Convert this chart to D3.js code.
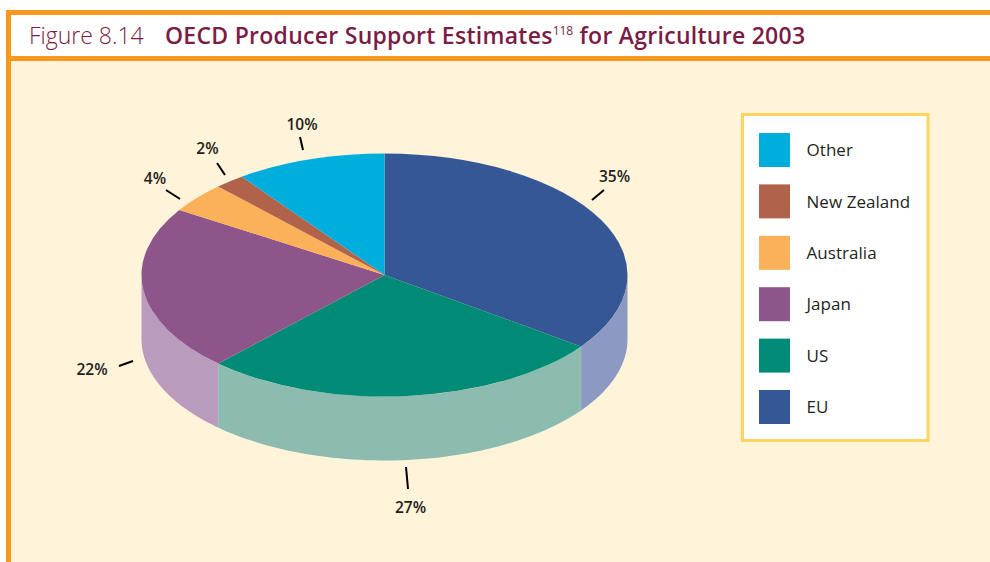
<!DOCTYPE html>
<html>
<head>
<meta charset="utf-8">
<title>OECD Producer Support Estimates for Agriculture 2003</title>
<style>
    html, body { margin: 0; background: #fff; }
    svg { display: block; font-family: "Open Sans", sans-serif; }
</style>
<script src="https://d3js.org/d3.v7.min.js"></script>
</head>
<body>
<svg id="chart" width="990" height="562"></svg>
<script>
// values read clockwise from 12 o'clock
const categories = ["EU", "US", "Japan", "Australia", "New Zealand", "Other"];
const shares = [35, 27, 22, 4, 2, 10];
const topColors = ["#355795", "#008b76", "#8e558b", "#fbb05a", "#b1624a", "#00aedd"];
const sideColors = ["#8c9ac3", "#8cbbb0", "#b99bbe", "#fbb05a", "#b1624a", "#00aedd"];
const legendOrder = ["Other", "New Zealand", "Australia", "Japan", "US", "EU"];

const width = 990, height = 562;
const cx = 384.5, cy = 275, rx = 243, ry = 121.5, depth = 64;

const svg = d3.select("#chart");

// page background and frame
svg.append("rect").attr("x", 6).attr("y", 10).attr("width", width - 6).attr("height", height - 10).attr("fill", "#fff3d9");
svg.append("rect").attr("x", 11).attr("y", 15).attr("width", width - 11).attr("height", 41).attr("fill", "#fff");
svg.append("rect").attr("x", 6).attr("y", 10).attr("width", width - 6).attr("height", 5).attr("fill", "#f9981f");
svg.append("rect").attr("x", 6).attr("y", 56).attr("width", width - 6).attr("height", 5).attr("fill", "#f9981f");
svg.append("rect").attr("x", 6).attr("y", 10).attr("width", 5).attr("height", height - 10).attr("fill", "#f9981f");

// title
const title = svg.append("text").attr("y", 44).attr("fill", "#7a1c45");
title.append("tspan").attr("x", 29).attr("font-size", 23).attr("font-weight", 300).text("Figure 8.14");
title.append("tspan").attr("x", 165).attr("font-size", 23).attr("font-weight", 600).attr("letter-spacing", 0.27).text("OECD Producer Support Estimates");
title.append("tspan").attr("font-size", 12).attr("font-weight", 400).attr("dy", -9).text("118");
title.append("tspan").attr("font-size", 23).attr("font-weight", 600).attr("letter-spacing", 0.27).attr("dy", 9).text(" for Agriculture 2003");

// pie layout, no sorting so the slices keep the reading order
const pie = d3.pie().sort(null).value(d => d)(shares);

const xr = d3.scaleLinear().domain([0, 1]).range([cx, cx + rx]);
const yr = d3.scaleLinear().domain([0, 1]).range([cy, cy + ry]);

// side wall of the cylinder, only the front half (90deg..270deg from the top) shows
const wall = d3.area()
    .x(a => xr(Math.sin(a)))
    .y0(a => yr(-Math.cos(a)))
    .y1(a => yr(-Math.cos(a)) + depth);

const frontStart = Math.PI / 2, frontEnd = Math.PI * 1.5;

pie.forEach(function(p, i) {
    const a0 = Math.max(p.startAngle, frontStart);
    const a1 = Math.min(p.endAngle, frontEnd);
    if (a1 <= a0) return;
    svg.append("path")
        .attr("d", wall(d3.range(0, 61).map(k => a0 + (a1 - a0) * k / 60)))
        .attr("fill", sideColors[i]);
});

// top face: a circular arc squashed to the ellipse
const arc = d3.arc().innerRadius(0).outerRadius(rx);
svg.append("g")
    .attr("transform", "translate(" + cx + "," + cy + ") scale(1," + (ry / rx) + ")")
    .selectAll("path")
    .data(pie)
    .enter()
    .append("path")
    .attr("d", arc)
    .attr("fill", (d, i) => topColors[i]);

// leader ticks and percent labels, placed by hand like the original
const callouts = [
    { x1: 604, y1: 190, x2: 592, y2: 200, tx: 614.5, ty: 181.5 },
    { x1: 406, y1: 467, x2: 408, y2: 489, tx: 410.5, ty: 512.5 },
    { x1: 119, y1: 366, x2: 133, y2: 361, tx: 92, ty: 374.5 },
    { x1: 166, y1: 190, x2: 180, y2: 199, tx: 155, ty: 183.5 },
    { x1: 217, y1: 163, x2: 225, y2: 175, tx: 207.5, ty: 153.5 },
    { x1: 300, y1: 137, x2: 303, y2: 150, tx: 302, ty: 129.5 }
];

svg.selectAll(".tick-line")
    .data(callouts)
    .enter()
    .append("line")
    .attr("class", "tick-line")
    .attr("x1", d => d.x1).attr("y1", d => d.y1)
    .attr("x2", d => d.x2).attr("y2", d => d.y2)
    .attr("stroke", "#000")
    .attr("stroke-width", 2);

svg.selectAll(".pct")
    .data(callouts)
    .enter()
    .append("text")
    .attr("class", "pct")
    .attr("x", d => d.tx)
    .attr("y", d => d.ty)
    .attr("text-anchor", "middle")
    .attr("font-size", 15.5)
    .attr("font-weight", 600)
    .attr("fill", "#231f20")
    .text((d, i) => shares[i] + "%");

// legend
svg.append("rect")
    .attr("x", 742.5).attr("y", 114.5)
    .attr("width", 185.5).attr("height", 326)
    .attr("fill", "#fff")
    .attr("stroke", "#ffd55f")
    .attr("stroke-width", 3);

const legendY = d3.scalePoint().domain(legendOrder).range([133, 390]);

const rows = svg.selectAll(".legend-row")
    .data(legendOrder)
    .enter()
    .append("g")
    .attr("class", "legend-row")
    .attr("transform", d => "translate(759," + legendY(d) + ")");

rows.append("rect")
    .attr("width", 31)
    .attr("height", 34)
    .attr("fill", d => topColors[categories.indexOf(d)]);

rows.append("text")
    .attr("x", 47.5)
    .attr("y", 23.2)
    .attr("font-size", 17)
    .attr("letter-spacing", 0.05)
    .attr("fill", "#231f20")
    .text(d => d);
</script>
</body>
</html>
